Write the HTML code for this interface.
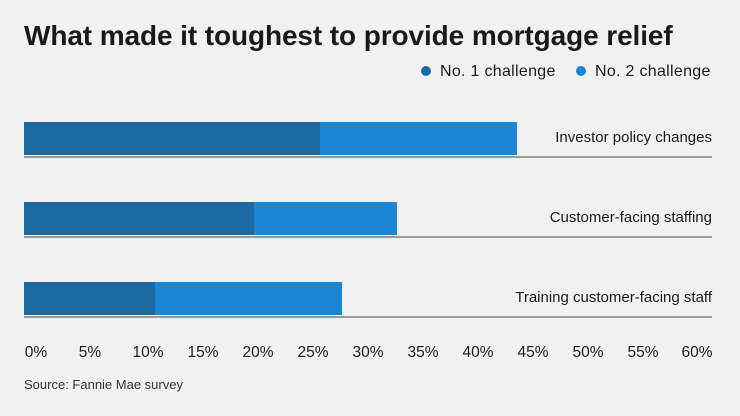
<!DOCTYPE html>
<html><head><style>
body{margin:0;width:740px;height:416px;background:#f0f1f0;font-family:"Liberation Sans",sans-serif;color:#1a1a1a;position:relative;overflow:hidden}
.a{position:absolute;white-space:nowrap}
.bar{position:absolute;height:33px}
.d{background:#1a69a0}.l{background:#1b87d4}
.line{position:absolute;left:24px;width:688px;height:2px;background:#999}
.lab{position:absolute;right:28px;font-size:15px}
.tick{position:absolute;top:344px;font-size:15.5px;transform:translateX(-50%)}
.dot{display:inline-block;width:10px;height:10px;border-radius:50%;margin-right:9px;vertical-align:0}
</style></head><body>
<div class="a" style="left:24px;top:20px;font-size:28px;font-weight:bold;letter-spacing:-0.1px">What made it toughest to provide mortgage relief</div>
<div class="a" style="left:421px;top:63px;font-size:16px;letter-spacing:0.3px"><span class="dot" style="background:#1a69a0"></span>No. 1 challenge</div>
<div class="a" style="left:576px;top:63px;font-size:16px;letter-spacing:0.3px"><span class="dot" style="background:#1b87d4"></span>No. 2 challenge</div>

<div class="bar d" style="left:24px;top:122px;width:296px"></div>
<div class="bar l" style="left:320px;top:122px;width:197px"></div>
<div class="line" style="top:156px"></div>
<div class="lab" style="top:129px">Investor policy changes</div>

<div class="bar d" style="left:24px;top:202px;width:230px"></div>
<div class="bar l" style="left:254px;top:202px;width:143px"></div>
<div class="line" style="top:236px"></div>
<div class="lab" style="top:209px">Customer-facing staffing</div>

<div class="bar d" style="left:24px;top:282px;width:131px"></div>
<div class="bar l" style="left:155px;top:282px;width:187px"></div>
<div class="line" style="top:316px"></div>
<div class="lab" style="top:289px">Training customer-facing staff</div>

<div class="tick" style="left:36px">0%</div>
<div class="tick" style="left:90px">5%</div>
<div class="tick" style="left:148px">10%</div>
<div class="tick" style="left:203px">15%</div>
<div class="tick" style="left:258px">20%</div>
<div class="tick" style="left:313px">25%</div>
<div class="tick" style="left:368px">30%</div>
<div class="tick" style="left:423px">35%</div>
<div class="tick" style="left:478px">40%</div>
<div class="tick" style="left:533px">45%</div>
<div class="tick" style="left:588px">50%</div>
<div class="tick" style="left:643px">55%</div>
<div class="tick" style="left:697px">60%</div>
<div class="a" style="left:24px;top:377px;font-size:13px;color:#333">Source: Fannie Mae survey</div>
</body></html>
